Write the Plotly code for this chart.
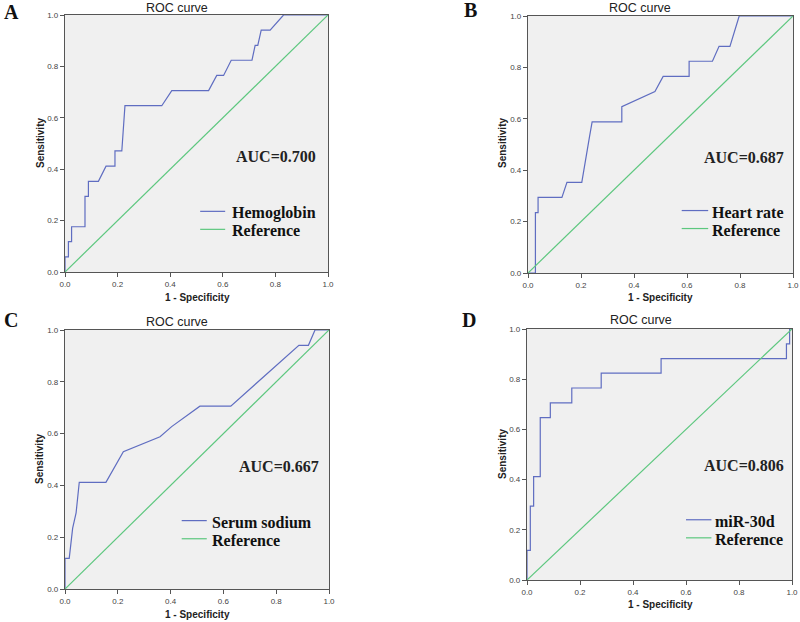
import plotly.graph_objects as go

# ---------------- data ----------------
panel_letters = ["A", "B", "C", "D"]
marker_names = ["Hemoglobin", "Heart rate", "Serum sodium", "miR-30d"]
auc_values = [0.700, 0.687, 0.667, 0.806]

hb_fpr = [0, 0, 0.013, 0.013, 0.025, 0.025, 0.076, 0.076, 0.089, 0.089, 0.127, 0.156, 0.19, 0.19,
          0.216, 0.228, 0.368, 0.406, 0.546, 0.577, 0.603, 0.632, 0.711, 0.723, 0.733, 0.746,
          0.78, 0.831, 1.0]
hb_tpr = [0, 0.059, 0.059, 0.118, 0.118, 0.176, 0.176, 0.294, 0.294, 0.353, 0.353, 0.412, 0.412,
          0.471, 0.471, 0.647, 0.647, 0.706, 0.706, 0.765, 0.765, 0.824, 0.824, 0.882, 0.882,
          0.941, 0.941, 1.0, 1.0]

hr_fpr = [0, 0.028, 0.028, 0.038, 0.038, 0.128, 0.147, 0.203, 0.232, 0.242, 0.354, 0.354, 0.479,
          0.51, 0.608, 0.608, 0.696, 0.721, 0.762, 0.797, 1.0]
hr_tpr = [0, 0, 0.235, 0.235, 0.294, 0.294, 0.353, 0.353, 0.53, 0.588, 0.588, 0.647, 0.706,
          0.765, 0.765, 0.824, 0.824, 0.882, 0.882, 1.0, 1.0]

na_fpr = [0, 0, 0.016, 0.029, 0.042, 0.054, 0.155, 0.221, 0.36, 0.404, 0.511, 0.628, 0.886,
          0.922, 0.947, 1.0]
na_tpr = [0, 0.118, 0.118, 0.235, 0.294, 0.412, 0.412, 0.53, 0.588, 0.627, 0.706, 0.706, 0.941,
          0.941, 1.0, 1.0]

mir_fpr = [0, 0, 0.0125, 0.0125, 0.025, 0.025, 0.05, 0.05, 0.088, 0.088, 0.169, 0.169, 0.28,
           0.28, 0.506, 0.506, 0.979, 0.979, 0.991, 0.991, 1.0]
mir_tpr = [0, 0.118, 0.118, 0.294, 0.294, 0.412, 0.412, 0.647, 0.647, 0.706, 0.706, 0.765,
           0.765, 0.824, 0.824, 0.882, 0.882, 0.941, 0.941, 1.0, 1.0]

ref_x = [0, 1]
ref_y = [0, 1]

curves = [(hb_fpr, hb_tpr), (hr_fpr, hr_tpr), (na_fpr, na_tpr), (mir_fpr, mir_tpr)]
tick_vals = [0, 0.2, 0.4, 0.6, 0.8, 1.0]
tick_text = ["0.0", "0.2", "0.4", "0.6", "0.8", "1.0"]
x_title = "1 - Specificity"
y_title = "Sensitivity"
panel_title = "ROC curve"

# ---------------- layout helpers ----------------
W, H = 800, 622
BLUE = "#5F6DC1"
GREEN = "#5CC77E"
SERIF = "Liberation Serif, Times New Roman, serif"
SANS = "Liberation Sans, Arial, sans-serif"

# plot areas in pixels: (x0, x1, ytop, ybottom)
areas = [(65, 328, 15, 272), (528, 793, 16, 273), (65, 329, 330, 589), (527, 792, 329, 580)]
title_px = [(177, 7.5), (640, 8), (177, 322), (641, 320)]
letter_px = [(2, 12), (462, 10), (2, 319.5), (460, 320)]
xtitle_px = [(197, 297), (660, 297), (197, 614), (660, 604)]
ytitle_px = [(40, 143), (502, 143), (40, 459), (502, 454)]
legend_line = [(0.514, 0.609), (0.58, 0.68), (0.442, 0.537), (0.60, 0.696)]
legend_rows = [(0.236, 0.166), (0.243, 0.173), (0.264, 0.194), (0.240, 0.168)]
legend_text_x = [0.626, 0.686, 0.549, 0.703]
auc_pos = [(0.641, 0.448), (0.655, 0.451), (0.65, 0.474), (0.659, 0.455)]

fig = go.Figure()
annotations = []
shapes = []

for i in range(4):
    sfx = "" if i == 0 else str(i + 1)
    xa, ya = "x" + sfx, "y" + sfx
    fx, fy = curves[i]
    fig.add_trace(go.Scatter(x=fx, y=fy, mode="lines", name=marker_names[i],
                             line=dict(color=BLUE, width=1.2), xaxis=xa, yaxis=ya,
                             showlegend=False))
    fig.add_trace(go.Scatter(x=ref_x, y=ref_y, mode="lines", name="Reference",
                             line=dict(color=GREEN, width=1.2), xaxis=xa, yaxis=ya,
                             showlegend=False))

    x0, x1, yt, yb = areas[i]
    axis_common = dict(range=[0, 1], tickvals=tick_vals, ticktext=tick_text,
                       ticks="outside", ticklen=4, tickcolor="#555", tickwidth=1,
                       showline=True, linecolor="#555", linewidth=1.2, mirror=True,
                       showgrid=False, zeroline=False,
                       tickfont=dict(family=SANS, size=8, color="#444"),
                       automargin=False, fixedrange=True)
    fig.update_layout(**{
        "xaxis" + sfx: dict(domain=[x0 / W, x1 / W], anchor=ya, **axis_common),
        "yaxis" + sfx: dict(domain=[1 - yb / H, 1 - yt / H], anchor=xa, **axis_common),
    })
    # plot background
    shapes.append(dict(type="rect", xref=xa + " domain", yref=ya + " domain",
                       x0=0, x1=1, y0=0, y1=1, fillcolor="#F0F0F0",
                       line=dict(width=0), layer="below"))

    # axis titles
    tx, ty = xtitle_px[i]
    annotations.append(dict(text="<b>" + x_title + "</b>", xref="paper", yref="paper",
                            x=tx / W, y=1 - ty / H, xanchor="center", yanchor="middle",
                            showarrow=False, font=dict(family=SANS, size=10, color="#222")))
    tx, ty = ytitle_px[i]
    annotations.append(dict(text="<b>" + y_title + "</b>", xref="paper", yref="paper",
                            x=tx / W, y=1 - ty / H, xanchor="center", yanchor="middle",
                            textangle=-90, showarrow=False,
                            font=dict(family=SANS, size=10, color="#222")))
    # title
    tx, ty = title_px[i]
    annotations.append(dict(text=panel_title, xref="paper", yref="paper", x=tx / W, y=1 - ty / H,
                            xanchor="center", yanchor="middle", showarrow=False,
                            font=dict(family=SANS, size=12.5, color="#222")))
    # panel letter
    lx, ly = letter_px[i]
    annotations.append(dict(text="<b>" + panel_letters[i] + "</b>", xref="paper", yref="paper",
                            x=lx / W, y=1 - ly / H, xanchor="left", yanchor="middle",
                            showarrow=False, font=dict(family=SERIF, size=20, color="#111")))
    # AUC text
    ax_, ay_ = auc_pos[i]
    annotations.append(dict(text="<b>AUC=%.3f</b>" % auc_values[i], xref=xa, yref=ya,
                            x=ax_, y=ay_, xanchor="left", yanchor="middle", showarrow=False,
                            font=dict(family=SERIF, size=16, color="#222")))
    # legend (lines + labels)
    lx0, lx1 = legend_line[i]
    for name, col, ry in [(marker_names[i], BLUE, legend_rows[i][0]),
                          ("Reference", GREEN, legend_rows[i][1])]:
        shapes.append(dict(type="line", xref=xa, yref=ya, x0=lx0, x1=lx1, y0=ry, y1=ry,
                           line=dict(color=col, width=1.2)))
        annotations.append(dict(text="<b>" + name + "</b>", xref=xa, yref=ya,
                                x=legend_text_x[i], y=ry - 0.006, xanchor="left",
                                yanchor="middle", showarrow=False,
                                font=dict(family=SERIF, size=16, color="#111")))

fig.update_layout(width=W, height=H, margin=dict(l=0, r=0, t=0, b=0),
                  paper_bgcolor="white", plot_bgcolor="rgba(0,0,0,0)",
                  showlegend=False, annotations=annotations, shapes=shapes)

fig.write_html("out.html", config={"displayModeBar": False},
               post_script="document.body.style.margin='0';document.body.style.overflow='hidden';")
